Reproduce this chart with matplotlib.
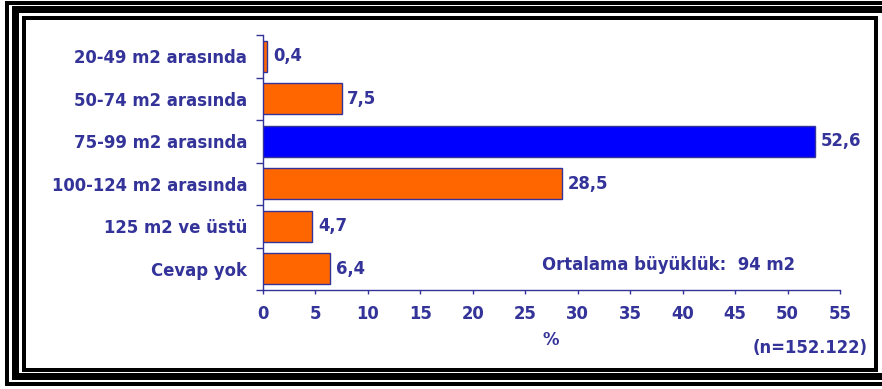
import matplotlib
matplotlib.use("Agg")
import matplotlib.pyplot as plt
from matplotlib.patches import Rectangle

plt.rcParams['font.family'] = ['DejaVu Sans']

categories = ["20-49 m2 arasında", "50-74 m2 arasında", "75-99 m2 arasında",
              "100-124 m2 arasında", "125 m2 ve üstü", "Cevap yok"]
values = [0.4, 7.5, 52.6, 28.5, 4.7, 6.4]
value_labels = ["0,4", "7,5", "52,6", "28,5", "4,7", "6,4"]
highlight = "75-99 m2 arasında"
x_ticks = list(range(0, 60, 5))

NAVY = "#333399"
ORANGE = "#FF6600"
BLUE = "#0000FF"
FS = 11.9

W, H = 882, 389
fig = plt.figure(figsize=(W / 100, H / 100), dpi=100)
fig.patch.set_facecolor("white")

# layered black frame (pixel coordinates, top-left origin)
def frame(x0, y0, x1, y1, t):
    for (x, y, w, h) in [(x0, y0, x1 - x0, t), (x0, y1 - t, x1 - x0, t),
                         (x0, y0, t, y1 - y0), (x1 - t, y0, t, y1 - y0)]:
        fig.patches.append(Rectangle((x / W, 1 - (y + h) / H), w / W, h / H,
                                     transform=fig.transFigure, facecolor="black",
                                     edgecolor="none", zorder=0))

frame(5, 1, 900, 386, 4)
frame(12, 6, 895, 380, 7)
frame(22, 16, 878, 372, 4)

ax = fig.add_axes([263 / W, 1 - 290 / H, (840 - 263) / W, (290 - 35) / H])
ypos = list(range(len(categories)))
colors = [BLUE if c == highlight else ORANGE for c in categories]
ax.barh(ypos, values, height=0.72, color=colors, edgecolor=NAVY, linewidth=1.0, zorder=3)
ax.set_ylim(len(categories) - 0.5, -0.5)
ax.set_xlim(0, 55)

ax.set_yticks(ypos)
ax.set_yticklabels(categories)
ax.set_yticks([i - 0.5 for i in range(len(categories) + 1)], minor=True)
ax.tick_params(axis="y", which="major", length=0, pad=11.5, labelsize=FS, labelcolor=NAVY)
ax.tick_params(axis="y", which="minor", length=5, width=1, color=NAVY, direction="out")
for lbl in ax.get_yticklabels():
    lbl.set_fontweight("bold")

ax.set_xticks(x_ticks)
ax.set_xticklabels([str(t) for t in x_ticks])
ax.tick_params(axis="x", length=3, width=1, color=NAVY, direction="out", pad=8,
               labelsize=FS, labelcolor=NAVY)
for lbl in ax.get_xticklabels():
    lbl.set_fontweight("bold")

for s in ["top", "right"]:
    ax.spines[s].set_visible(False)
for s in ["left", "bottom"]:
    ax.spines[s].set_color(NAVY)
    ax.spines[s].set_linewidth(1.0)

for y, v, t in zip(ypos, values, value_labels):
    ax.annotate(t, (v, y), xytext=(4, 0), textcoords="offset points",
                va="center", ha="left", fontsize=FS, fontweight="bold", color=NAVY)

fig.text(551 / W, 1 - 340 / H, "%", ha="center", va="center", fontsize=FS,
         fontweight="bold", color=NAVY)
fig.text(868 / W, 1 - 348 / H, "(n=152.122)", ha="right", va="center", fontsize=FS,
         fontweight="bold", color=NAVY)
fig.text(542 / W, 1 - 265 / H, "Ortalama büyüklük:  94 m2", ha="left", va="center",
         fontsize=FS, fontweight="bold", color=NAVY)

fig.savefig("out.png", dpi=100)
